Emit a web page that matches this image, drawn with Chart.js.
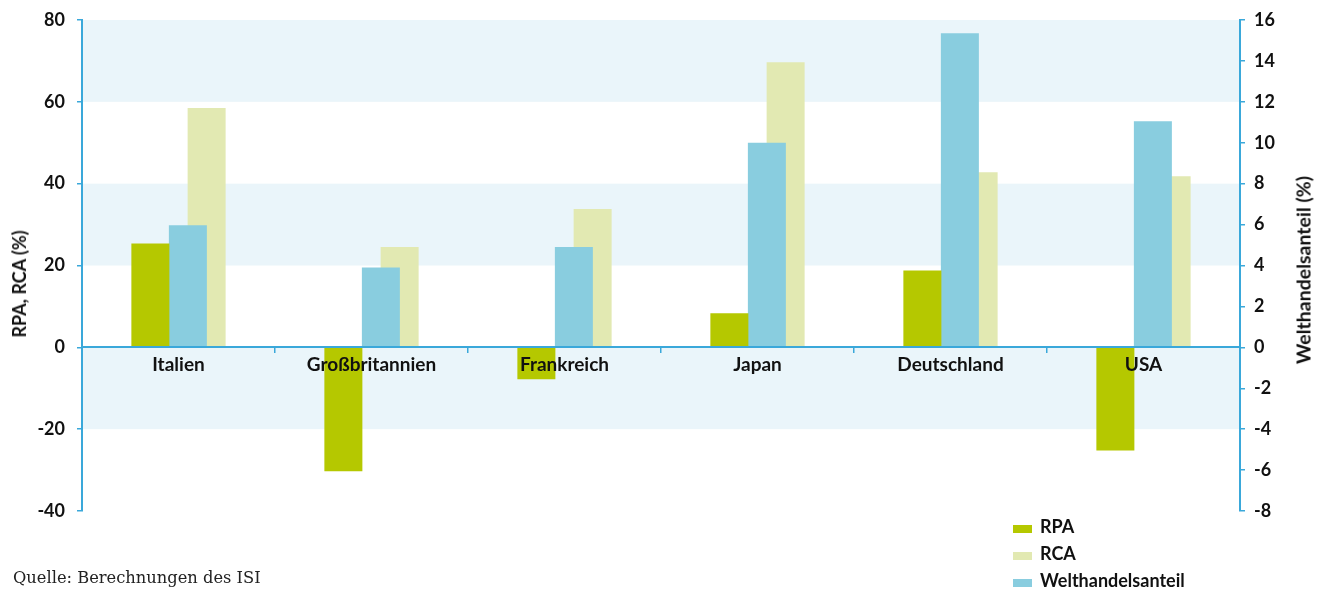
<!DOCTYPE html>
<html><head><meta charset="utf-8">
<script src="https://cdn.jsdelivr.net/npm/chart.js@4/dist/chart.umd.min.js"></script>
<style>
html,body{margin:0;padding:0;background:#fff;}
#wrap{position:relative;width:1322px;height:590px;overflow:hidden;}
canvas{position:absolute;left:0;top:0;}
.f{font-family:'Lato','Roboto',sans-serif;font-weight:bold;color:#111;}
.rot{position:absolute;white-space:nowrap;font-size:18px;transform:translate(-50%,-50%) rotate(-90deg);}
#legend{position:absolute;left:1013px;top:513px;}
.li{position:relative;height:27px;font-size:18px;line-height:27px;}
.li span.b{position:absolute;left:0;top:12px;width:19px;height:8px;}
.li span.l{position:absolute;left:27px;top:0;white-space:nowrap;}
#src{position:absolute;left:13px;top:568px;font-family:'DejaVu Serif','Liberation Serif',serif;font-size:16.3px;color:#222;white-space:nowrap;}
</style></head><body>
<div id="wrap">
<canvas id="c" width="1322" height="590"></canvas>
<div class="f rot" style="left:19px;top:284px;">RPA, RCA (%)</div>
<div class="f rot" style="left:1303px;top:270px;font-size:19.5px;">Welthandelsanteil (%)</div>
<div id="legend" class="f"></div>
<div id="src">Quelle: Berechnungen des ISI</div>
</div>
<script>
const categories = ['Italien', 'Großbritannien', 'Frankreich', 'Japan', 'Deutschland', 'USA'];
const rpa = [25.4, -30.3, -7.8, 8.3, 18.8, -25.2];
const rca = [58.5, 24.5, 33.8, 69.7, 42.8, 41.8];
const welthandel = [5.97, 3.9, 4.9, 10.0, 15.35, 11.05];
const leftTicks = [-40, -20, 0, 20, 40, 60, 80];
const rightTicks = [-8, -6, -4, -2, 0, 2, 4, 6, 8, 10, 12, 14, 16];
const bands = [[60, 80], [20, 40], [-20, 0]];

const COL_RPA = '#b5c800', COL_RCA = '#e2e9b2', COL_WELT = '#89cddf';
const AXIS = '#3aa8da', BAND = '#eaf5fa';
const FONT = "'Lato','Roboto',sans-serif";

const bandPlugin = {
  id: 'bands',
  beforeDraw(chart) {
    const {ctx, chartArea, scales} = chart;
    ctx.save();
    ctx.fillStyle = BAND;
    bands.forEach(([a, b]) => {
      const y1 = scales.y.getPixelForValue(b), y2 = scales.y.getPixelForValue(a);
      ctx.fillRect(chartArea.left, y1, chartArea.right - chartArea.left, y2 - y1);
    });
    ctx.restore();
  }
};

const legendItems = [['RPA', COL_RPA], ['RCA', COL_RCA], ['Welthandelsanteil', COL_WELT]];
document.getElementById('legend').innerHTML = legendItems.map(([l, c]) =>
  `<div class="li"><span class="b" style="background:${c}"></span><span class="l">${l}</span></div>`).join('');

const barOpts = {categoryPercentage: 0.3886, barPercentage: 2.027, borderWidth: 0};

new Chart(document.getElementById('c'), {
  type: 'bar',
  data: {
    labels: categories,
    datasets: [
      Object.assign({label: 'RPA', data: rpa, backgroundColor: COL_RPA, yAxisID: 'y'}, barOpts),
      Object.assign({label: '_gap', data: categories.map(() => null), backgroundColor: 'rgba(0,0,0,0)', yAxisID: 'y'}, barOpts),
      Object.assign({label: 'Welthandelsanteil', data: welthandel, backgroundColor: COL_WELT, yAxisID: 'y2'}, barOpts),
      Object.assign({label: 'RCA', data: rca, backgroundColor: COL_RCA, yAxisID: 'y'}, barOpts)
    ]
  },
  options: {
    responsive: false,
    animation: false,
    events: [],
    layout: {padding: {top: 20, bottom: 79, left: 0, right: 0}},
    plugins: {legend: {display: false}, tooltip: {enabled: false}},
    scales: {
      x: {
        type: 'category',
        position: {y: 0},
        offset: true,
        grid: {offset: true, drawOnChartArea: false, drawTicks: true, tickLength: 5, color: AXIS, lineWidth: 1.5, z: 1},
        border: {display: true, color: AXIS, width: 2, z: 1},
        ticks: {font: {family: FONT, size: 19, weight: 'bold', lineHeight: 1.0}, color: '#111', padding: 3, maxRotation: 0, autoSkip: false, z: 1}
      },
      y: {
        position: 'left', min: -40, max: 80,
        afterFit(s) { s.width = 82; },
        afterBuildTicks(s) { s.ticks = leftTicks.map(v => ({value: v})); },
        grid: {drawOnChartArea: false, drawTicks: true, tickLength: 5, color: AXIS, lineWidth: 1.5},
        border: {display: true, color: AXIS, width: 2},
        ticks: {font: {family: FONT, size: 18, weight: 'bold', lineHeight: 0.7}, color: '#111', padding: 12}
      },
      y2: {
        position: 'right', min: -8, max: 16,
        afterFit(s) { s.width = 82; },
        afterBuildTicks(s) { s.ticks = rightTicks.map(v => ({value: v})); },
        grid: {drawOnChartArea: false, drawTicks: true, tickLength: 5, color: AXIS, lineWidth: 1.5},
        border: {display: true, color: AXIS, width: 2},
        ticks: {font: {family: FONT, size: 18, weight: 'bold', lineHeight: 0.7}, color: '#111', padding: 9}
      }
    }
  },
  plugins: [bandPlugin]
});
</script>
</body></html>
